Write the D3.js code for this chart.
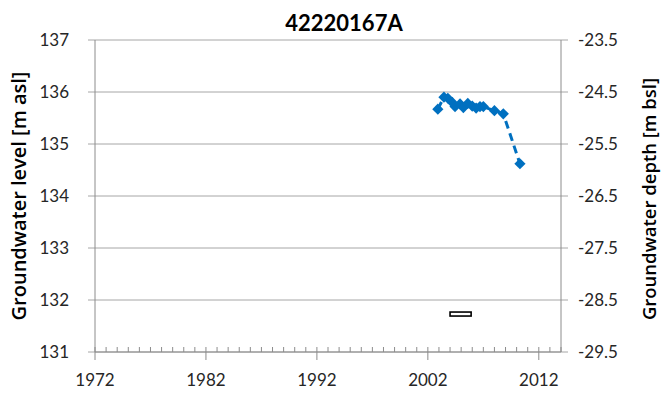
<!DOCTYPE html>
<html>
<head>
<meta charset="utf-8">
<script src="https://cdn.jsdelivr.net/npm/d3@7"></script>
<style>
  html, body { margin: 0; padding: 0; background: #fff; }
  #container { width: 662px; height: 396px; }
</style>
</head>
<body>
<div id="container"></div>
<script>
const width = 662, height = 396;

// --- Data ---
const years = [2002.9, 2003.45, 2003.8, 2004.2, 2004.45, 2004.9, 2005.2, 2005.6, 2006.0, 2006.35, 2006.7, 2007.0, 2008.0, 2008.8, 2010.3];
const levels = [135.67, 135.9, 135.88, 135.8, 135.72, 135.77, 135.7, 135.78, 135.73, 135.69, 135.72, 135.72, 135.64, 135.58, 134.62];
const screenStart = 2004.0, screenEnd = 2005.9, screenLevel = 131.73;
const levelTicks = [131, 132, 133, 134, 135, 136, 137];
const depthTicks = [-29.5, -28.5, -27.5, -26.5, -25.5, -24.5, -23.5];
const yearTicks = [1972, 1982, 1992, 2002, 2012];
const offset = 160.5; // level - offset = depth

// --- Layout ---
const margin = { top: 40, right: 101, bottom: 44, left: 95 };
const iw = width - margin.left - margin.right;
const ih = height - margin.top - margin.bottom;

const svg = d3.select("#container").append("svg")
  .attr("width", width).attr("height", height);
const g = svg.append("g").attr("transform", `translate(${margin.left},${margin.top})`);

const x = d3.scaleLinear().domain([1972, 2014]).range([0, iw]);
const y = d3.scaleLinear().domain([131, 137]).range([ih, 0]);
const y2 = d3.scaleLinear().domain([131 - offset, 137 - offset]).range([ih, 0]);

const gridCol = "#a6a6a6";
const axisCol = "#8c8c8c";
const tickFont = "Lato, 'Liberation Sans', sans-serif";

// --- Grid lines (extend out as ticks on both sides) ---
g.selectAll("line.grid").data(levelTicks).join("line")
  .attr("class", "grid")
  .attr("x1", -7).attr("x2", iw + 7)
  .attr("y1", d => y(d)).attr("y2", d => y(d))
  .attr("stroke", gridCol).attr("stroke-width", 1);

// --- Left / right axis lines ---
g.append("line").attr("x1", 0).attr("x2", 0).attr("y1", 0).attr("y2", ih)
  .attr("stroke", axisCol).attr("stroke-width", 1);
g.append("line").attr("x1", iw).attr("x2", iw).attr("y1", 0).attr("y2", ih)
  .attr("stroke", axisCol).attr("stroke-width", 1);

// --- Bottom axis with yearly minor ticks ---
g.append("line").attr("x1", 0).attr("x2", iw).attr("y1", ih).attr("y2", ih)
  .attr("stroke", axisCol).attr("stroke-width", 1);
const minorYears = d3.range(1972, 2015).filter(d => !yearTicks.includes(d));
g.selectAll("line.minor").data(minorYears).join("line")
  .attr("class", "minor")
  .attr("x1", d => x(d)).attr("x2", d => x(d))
  .attr("y1", ih - 5).attr("y2", ih)
  .attr("stroke", axisCol).attr("stroke-width", 1);
g.selectAll("line.major").data(yearTicks).join("line")
  .attr("class", "major")
  .attr("x1", d => x(d)).attr("x2", d => x(d))
  .attr("y1", ih - 5).attr("y2", ih + 8)
  .attr("stroke", axisCol).attr("stroke-width", 1);
g.selectAll("text.xlab").data(yearTicks).join("text")
  .attr("class", "xlab")
  .attr("x", d => x(d)).attr("y", ih + 34)
  .attr("text-anchor", "middle")
  .style("font-family", tickFont).style("font-size", "17px").attr("fill", "#262626")
  .text(d => d);

// --- Left tick labels ---
g.selectAll("text.ylab").data(levelTicks).join("text")
  .attr("class", "ylab")
  .attr("x", -26).attr("y", d => y(d)).attr("dy", "0.35em")
  .attr("text-anchor", "end")
  .style("font-family", tickFont).style("font-size", "17px").attr("fill", "#262626")
  .text(d => d);

// --- Right tick labels ---
g.selectAll("text.y2lab").data(depthTicks).join("text")
  .attr("class", "y2lab")
  .attr("x", iw + 17).attr("y", d => y2(d)).attr("dy", "0.35em")
  .attr("text-anchor", "start")
  .style("font-family", tickFont).style("font-size", "17px").attr("fill", "#262626")
  .text(d => d.toFixed(1));

// --- Screen marker (open rectangle) ---
g.append("rect")
  .attr("x", x(screenStart)).attr("y", y(screenLevel) - 2)
  .attr("width", x(screenEnd) - x(screenStart)).attr("height", 4)
  .attr("fill", "#fff").attr("stroke", "#000").attr("stroke-width", 1.6);

// --- Series: dashed line + diamonds ---
const pts = years.map((yr, i) => ({ yr, lv: levels[i] }));
g.append("path").datum(pts)
  .attr("d", d3.line().x(d => x(d.yr)).y(d => y(d.lv)))
  .attr("fill", "none").attr("stroke", "#0070c0")
  .attr("stroke-width", 3).attr("stroke-dasharray", "8,5");
g.selectAll("path.pt").data(pts).join("path")
  .attr("class", "pt")
  .attr("transform", d => `translate(${x(d.yr)},${y(d.lv)})`)
  .attr("d", d3.symbol(d3.symbolDiamond2, 80))
  .attr("fill", "#0070c0");

// --- Title ---
svg.append("text")
  .attr("x", 344).attr("y", 31)
  .attr("text-anchor", "middle")
  .style("font-family", tickFont).style("font-size", "22px").style("font-weight", "700")
  .attr("fill", "#000")
  .text("42220167A");

// --- Axis titles ---
svg.append("text")
  .attr("transform", "translate(26,196) rotate(-90)")
  .attr("text-anchor", "middle")
  .style("font-family", "'Open Sans', sans-serif").style("font-size", "20px").style("font-weight", "600")
  .attr("fill", "#000")
  .text("Groundwater level [m asl]");
svg.append("text")
  .attr("transform", "translate(656,199) rotate(-90)")
  .attr("text-anchor", "middle")
  .style("font-family", "'Open Sans', sans-serif").style("font-size", "18.5px").style("font-weight", "600")
  .attr("fill", "#000")
  .text("Groundwater depth [m bsl]");
</script>
</body>
</html>
